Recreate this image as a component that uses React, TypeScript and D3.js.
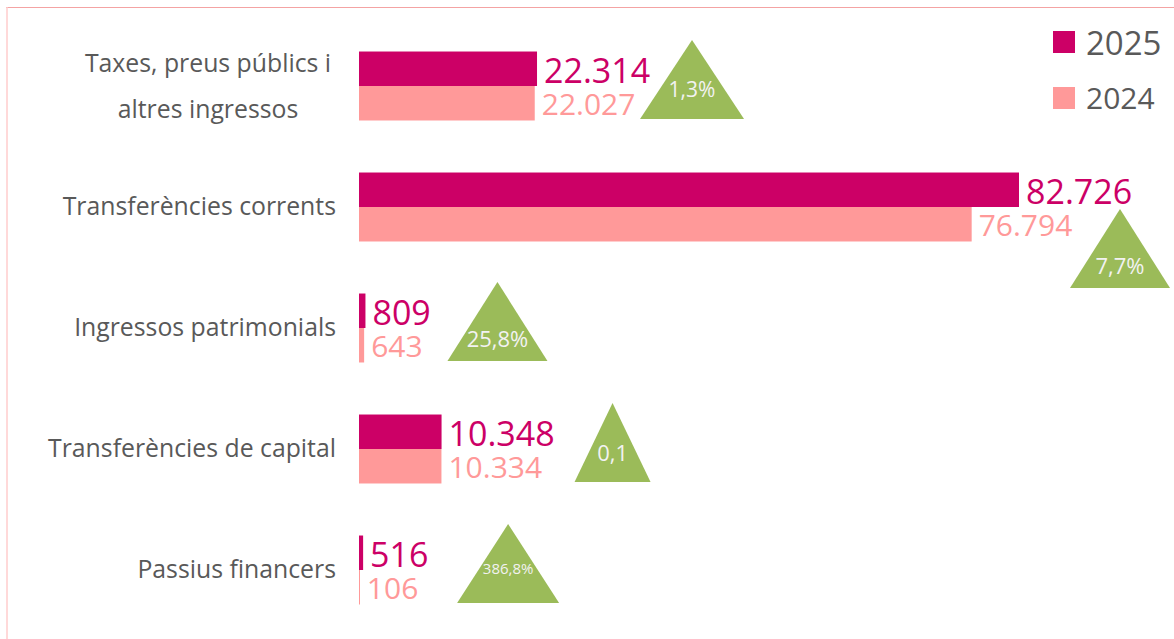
import React from "react";
import * as d3 from "d3";

const categories = [
  "Taxes, preus públics i altres ingressos",
  "Transferències corrents",
  "Ingressos patrimonials",
  "Transferències de capital",
  "Passius financers",
];
const series = ["2025", "2024"];
const values2025 = [22314, 82726, 809, 10348, 516];
const values2024 = [22027, 76794, 643, 10334, 106];
const pctLabels = ["1,3%", "7,7%", "25,8%", "0,1", "386,8%"];

// layout (not data): triangle placement relative to bar end / band centre
const triLayout = [
  { dx: 155, dy: 0, half: 52, font: 21, textUp: 22 },
  { dx: 101, dy: 48, half: 50, font: 22, textUp: 14 },
  { dx: 132, dy: 0, half: 50, font: 22, textUp: 14 },
  { dx: 171, dy: 0, half: 38, font: 22, textUp: 21 },
  { dx: 145, dy: 0, half: 51, font: 15, textUp: 29 },
];

const COLORS: Record<string, string> = { "2025": "#CC0066", "2024": "#FF9999" };
const GREEN = "#9BBB59";
const GREY = "#595959";
const FONT = "'Open Sans', 'Noto Sans', sans-serif";

const locale = d3.formatLocale({ decimal: ",", thousands: ".", grouping: [3], currency: ["", "€"] });
const fmt = locale.format(",d");

export default function App() {
  const W = 1174, H = 639;
  const x = d3.scaleLinear().domain([0, 82726]).range([359, 1019]);
  const y = d3.scaleBand<string>().domain(categories).range([25.5, 630.5]).paddingInner(0.43).paddingOuter(0.215);
  const ys = d3.scaleBand<string>().domain(series).range([0, y.bandwidth()]);
  const vals: Record<string, number[]> = { "2025": values2025, "2024": values2024 };

  return (
    <div style={{ position: "absolute", left: 0, top: 0 }}>
      <svg width={W} height={H} style={{ display: "block", fontFamily: FONT }}>
        <rect width={W} height={H} fill="#fff" />
        <line x1={6} x2={W} y1={7.5} y2={7.5} stroke="#F4A3A3" strokeWidth={1} />
        <line x1={7} x2={7} y1={7} y2={H} stroke="#FFCCCC" strokeWidth={1.5} />

        {categories.map((c, i) => {
          const y0 = y(c)!;
          const cy = y0 + y.bandwidth() / 2;
          const lines = i === 0 ? ["Taxes, preus públics i", "altres ingressos"] : [c];
          const barEnd = Math.max(x(values2025[i]), x(values2024[i]));
          const t = triLayout[i];
          const tcx = barEnd + t.dx;
          const apex = cy - 46 + t.dy;
          const base = cy + 33 + t.dy;
          return (
            <g key={c}>
              {lines.length === 1 ? (
                <text x={336} y={cy + 8} textAnchor="end" fontSize={24.8} fill={GREY}>{c}</text>
              ) : (
                lines.map((l, k) => (
                  <text key={k} x={208} y={cy - 14 + k * 46} textAnchor="middle" fontSize={24.8} fill={GREY}>{l}</text>
                ))
              )}
              {series.map((s) => {
                const v = vals[s][i];
                const by = y0 + ys(s)!;
                return (
                  <g key={s}>
                    <rect x={x(0)} y={by} width={Math.max(1, x(v) - x(0))} height={ys.bandwidth()} fill={COLORS[s]} />
                    <text
                      x={x(v) + 7}
                      y={s === "2025" ? cy - 3 : cy + 29}
                      fontSize={s === "2025" ? 34 : 30}
                      fill={COLORS[s]}
                    >
                      {fmt(v)}
                    </text>
                  </g>
                );
              })}
              <path d={`M${tcx},${apex}L${tcx + t.half},${base}L${tcx - t.half},${base}Z`} fill={GREEN} />
              <text x={tcx} y={base - t.textUp} textAnchor="middle" fontSize={t.font} fill="#F2F2F2">{pctLabels[i]}</text>
            </g>
          );
        })}

        {series.map((s, k) => (
          <g key={s} transform={`translate(1053,${k === 0 ? 31 : 87})`}>
            <rect width={22} height={22} fill={COLORS[s]} />
            <text x={33} y={k === 0 ? 24 : 22} fontSize={k === 0 ? 33 : 30} fill={GREY}>{s}</text>
          </g>
        ))}
      </svg>
    </div>
  );
}
